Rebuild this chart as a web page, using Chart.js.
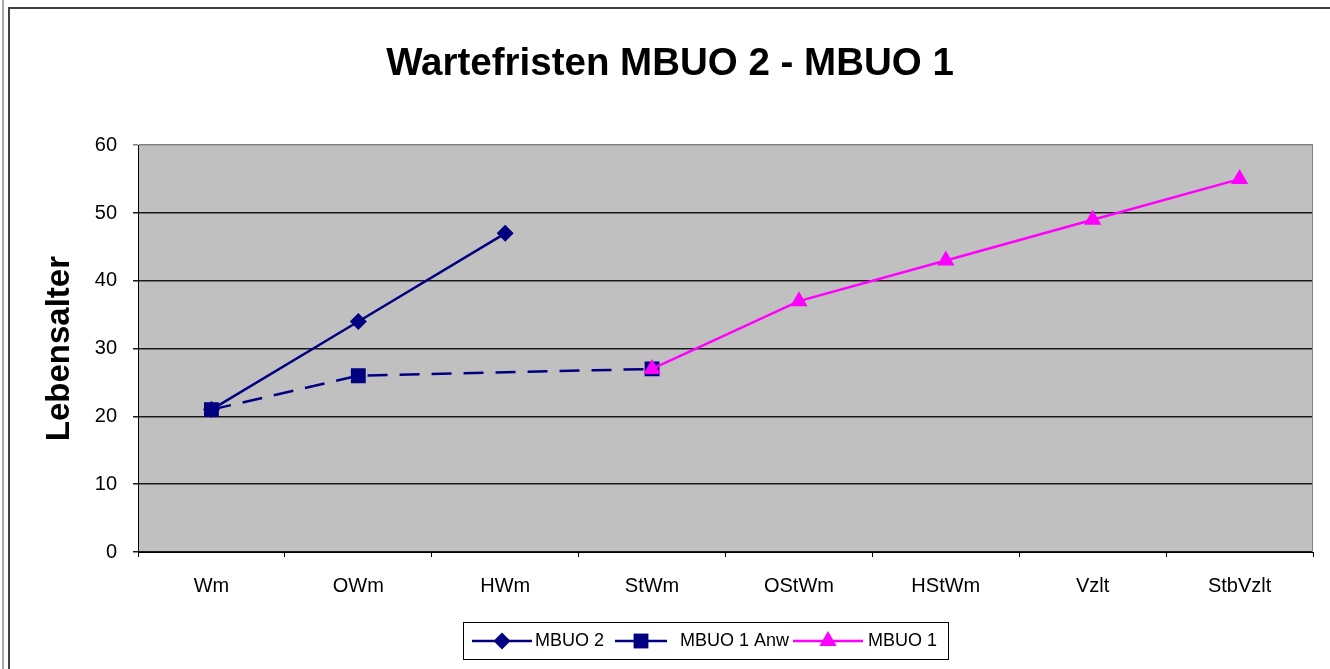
<!DOCTYPE html>
<html><head><meta charset="utf-8">
<script src="https://cdn.jsdelivr.net/npm/chart.js@4/dist/chart.umd.min.js"></script>
<style>html,body{margin:0;padding:0;background:#fff;overflow:hidden}#wrap{position:relative;width:1330px;height:669px}</style>
</head><body><div id="wrap"><canvas id="c" width="1330" height="669"></canvas></div>
<script>
const categories = ['Wm','OWm','HWm','StWm','OStWm','HStWm','Vzlt','StbVzlt'];
const mbuo2 = [21, 34, 47, null, null, null, null, null];
const mbuo1Anw = [21, 26, null, 27, null, null, null, null];
const mbuo1 = [null, null, null, 27, 37, 43, 49, 55];
const yTicks = [0, 10, 20, 30, 40, 50, 60];
const seriesNames = ['MBUO 2', 'MBUO 1 Anw', 'MBUO 1'];
const chartTitle = 'Wartefristen MBUO 2 - MBUO 1';
const yTitle = 'Lebensalter';

const FONT = '"Liberation Sans", Arial, sans-serif';
const NAVY = '#000080', MAG = '#FF00FF';

const framePlugin = {
  id: 'frame',
  beforeDraw(chart) {
    const ctx = chart.ctx, a = chart.chartArea;
    ctx.save();
    ctx.fillStyle = '#fff';
    ctx.fillRect(0, 0, chart.width, chart.height);
    ctx.fillStyle = '#a8a8a8';
    ctx.fillRect(2, 0, 2, chart.height);
    ctx.fillStyle = '#404040';
    ctx.fillRect(8, 7, 2, chart.height - 7);
    ctx.fillRect(8, 7, chart.width - 8, 2);
    ctx.fillStyle = '#C0C0C0';
    ctx.fillRect(a.left, a.top, a.right - a.left, a.bottom - a.top);
    ctx.restore();
  },
  beforeDatasetsDraw(chart) {
    const ctx = chart.ctx, a = chart.chartArea;
    ctx.save();
    ctx.strokeStyle = '#808080';
    ctx.lineWidth = 1;
    ctx.beginPath();
    ctx.moveTo(Math.round(a.right) - 0.5, a.top);
    ctx.lineTo(Math.round(a.right) - 0.5, a.bottom);
    ctx.stroke();
    ctx.restore();
  }
};

function drawMarker(ctx, style, x, y, r, color) {
  ctx.save();
  ctx.fillStyle = color;
  ctx.beginPath();
  if (style === 'rectRot') {
    ctx.moveTo(x, y - r); ctx.lineTo(x + r, y); ctx.lineTo(x, y + r); ctx.lineTo(x - r, y);
  } else if (style === 'rect') {
    const h = r * Math.SQRT1_2;
    ctx.rect(x - h, y - h, 2 * h, 2 * h);
  } else {
    const s = r * Math.sqrt(3) / 2;
    ctx.moveTo(x, y - r); ctx.lineTo(x + s, y + r / 2); ctx.lineTo(x - s, y + r / 2);
  }
  ctx.closePath();
  ctx.fill();
  ctx.restore();
}

const legendPlugin = {
  id: 'xlLegend',
  afterDraw(chart) {
    const ctx = chart.ctx;
    const box = {x: 463, y: 622, w: 485, h: 37};
    const items = [{x0: 472, x1: 532, tx: 535}, {x0: 615, x1: 667, tx: 680}, {x0: 793, x1: 863, tx: 868}];
    const cy = 641;
    ctx.save();
    ctx.fillStyle = '#fff';
    ctx.fillRect(box.x, box.y, box.w, box.h);
    ctx.strokeStyle = '#000';
    ctx.lineWidth = 1;
    ctx.strokeRect(box.x + 0.5, box.y + 0.5, box.w, box.h);
    chart.data.datasets.forEach((ds, i) => {
      const it = items[i];
      ctx.save();
      ctx.strokeStyle = ds.borderColor;
      ctx.lineWidth = ds.borderWidth;
      ctx.setLineDash(ds.borderDash || []);
      ctx.beginPath();
      ctx.moveTo(it.x0, cy); ctx.lineTo(it.x1, cy);
      ctx.stroke();
      ctx.restore();
      drawMarker(ctx, ds.pointStyle, (it.x0 + it.x1) / 2, cy, ds.pointRadius, ds.borderColor);
      ctx.fillStyle = '#000';
      ctx.font = '18px ' + FONT;
      ctx.textBaseline = 'middle';
      ctx.textAlign = 'left';
      ctx.fillText(ds.label, it.tx, cy);
    });
    ctx.restore();
  }
};

new Chart(document.getElementById('c'), {
  type: 'line',
  data: {
    labels: categories,
    datasets: [
      {label: seriesNames[0], data: mbuo2, borderColor: NAVY, backgroundColor: NAVY, borderWidth: 2.5,
       pointStyle: 'rectRot', pointRadius: 8.5, pointBorderWidth: 0, pointBackgroundColor: NAVY, order: 2},
      {label: seriesNames[1], data: mbuo1Anw, borderColor: NAVY, backgroundColor: NAVY, borderWidth: 2.5,
       borderDash: [20, 12], spanGaps: true,
       pointStyle: 'rect', pointRadius: 10.5, pointBorderWidth: 0, pointBackgroundColor: NAVY, order: 1},
      {label: seriesNames[2], data: mbuo1, borderColor: MAG, backgroundColor: MAG, borderWidth: 2.5,
       pointStyle: 'triangle', pointRadius: 10, pointBorderWidth: 0, pointBackgroundColor: MAG, order: 0}
    ]
  },
  options: {
    responsive: false,
    animation: false,
    devicePixelRatio: 1,
    layout: {padding: {left: 27, right: 17, top: 0, bottom: 0}},
    plugins: {
      legend: {display: false},
      tooltip: {enabled: false},
      title: {display: true, text: chartTitle, color: '#000',
              font: {family: FONT, size: 38.5, weight: 'bold'}, padding: {top: 41, bottom: 58}}
    },
    scales: {
      x: {
        offset: true,
        grid: {drawOnChartArea: false, drawTicks: true, tickLength: 5, color: '#000', offset: true},
        border: {color: '#000', width: 1},
        ticks: {color: '#000', font: {family: FONT, size: 20}, padding: 17, maxRotation: 0, autoSkip: false},
        afterFit(s) { s.height = 117; }
      },
      y: {
        min: 0, max: 60,
        afterBuildTicks(axis) { axis.ticks = yTicks.map(v => ({value: v})); },
        grid: {color: (c) => (c.tick && c.tick.value === 60) ? '#808080' : '#1a1a1a', lineWidth: 1.5, tickLength: 5},
        border: {color: '#000', width: 1},
        ticks: {color: '#000', font: {family: FONT, size: 20}, padding: 16},
        title: {display: true, text: yTitle, color: '#000', font: {family: FONT, size: 33, weight: 'bold'}, padding: {top: 13, bottom: 0}},
        afterFit(s) { s.width = 111; }
      }
    }
  },
  plugins: [framePlugin, legendPlugin]
});
</script>
</body></html>
